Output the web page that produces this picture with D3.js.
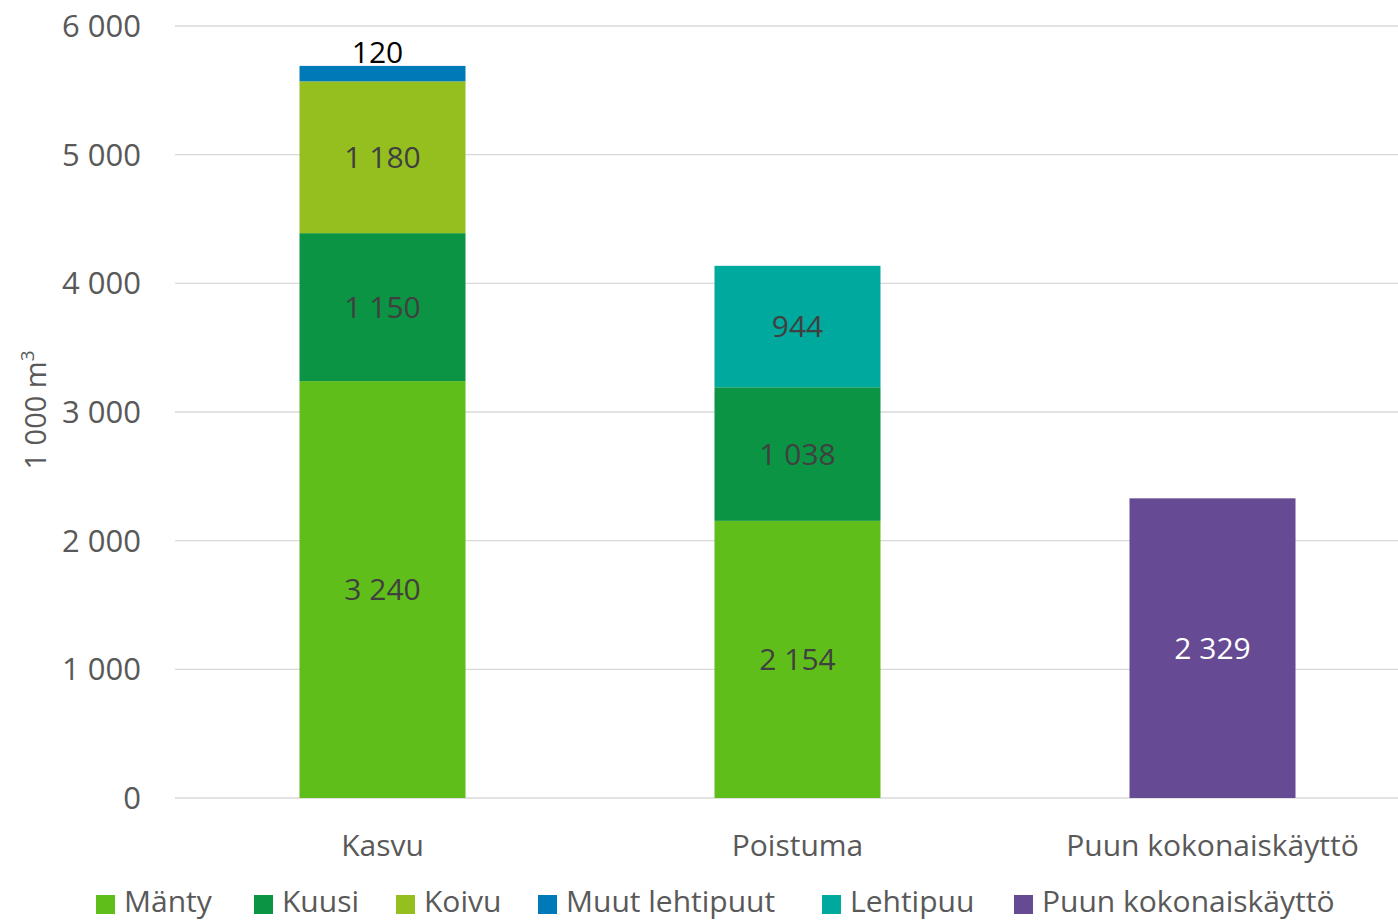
<!DOCTYPE html>
<html><head><meta charset="utf-8">
<script src="https://cdn.jsdelivr.net/npm/d3@7"></script>
<style>body{margin:0;background:#fff}svg{display:block}text{font-family:"Open Sans",sans-serif}</style>
</head><body>
<svg id="c" width="1398" height="920"></svg>
<script>
const categories = ["Kasvu","Poistuma","Puun kokonaiskäyttö"];
const seriesNames = ["Mänty","Kuusi","Koivu","Muut lehtipuut","Lehtipuu","Puun kokonaiskäyttö"];
const seriesColors = ["#5fbe1a","#0a9444","#94bf1f","#0079b9","#00a99d","#674a94"];
// values per series per category
const manty = [3240, 2154, 0];
const kuusi = [1150, 1038, 0];
const koivu = [1180, 0, 0];
const muutLehtipuut = [120, 0, 0];
const lehtipuu = [0, 944, 0];
const puunKaytto = [0, 0, 2329];
const yTicks = [0,1000,2000,3000,4000,5000,6000];

const seriesValues = [manty,kuusi,koivu,muutLehtipuut,lehtipuu,puunKaytto];
const table = categories.map((c,i)=>{const o={cat:c}; seriesNames.forEach((s,j)=>o[s]=seriesValues[j][i]); return o;});

const svg = d3.select("#c");
const y = d3.scaleLinear().domain([0,6000]).range([798,26]);
const x = d3.scaleBand().domain(categories).range([175,1420]).paddingInner(0.6).paddingOuter(0.3);
const fmt = v => d3.format(",")(v).replace(/,/g," ");

// gridlines
svg.append("g").selectAll("line").data(yTicks).join("line")
  .attr("x1",175).attr("x2",1398).attr("y1",d=>y(d)).attr("y2",d=>y(d))
  .attr("stroke","#d9d9d9").attr("stroke-width",1.3);

// y tick labels
svg.append("g").selectAll("text").data(yTicks).join("text")
  .attr("x",141).attr("y",d=>y(d)).attr("dy","0.36em").attr("text-anchor","end")
  .attr("font-size",31).attr("fill","#595959").text(fmt);

// y title
const yt = svg.append("text").attr("transform","translate(46,410) rotate(-90)")
  .attr("text-anchor","middle").attr("font-size",29).attr("fill","#595959");
yt.append("tspan").text("1 000 m");
yt.append("tspan").attr("font-size",19).attr("dy",-12).text("3");

const stack = d3.stack().keys(seriesNames)(table);
const g = svg.append("g");
stack.forEach((layer,j)=>{
  layer.forEach((d,i)=>{
    const v = d[1]-d[0];
    if(v<=0) return;
    g.append("rect").attr("x",x(categories[i])).attr("width",x.bandwidth())
      .attr("y",y(d[1])).attr("height",y(d[0])-y(d[1])).attr("fill",seriesColors[j]);
  });
});
// labels
stack.forEach((layer,j)=>{
  layer.forEach((d,i)=>{
    const v = d[1]-d[0];
    if(v<=0) return;
    const cx = x(categories[i])+x.bandwidth()/2;
    const t = g.append("text").attr("text-anchor","middle").attr("font-size",30).text(fmt(v));
    if(seriesNames[j]==="Muut lehtipuut"){
      t.attr("x",cx-5).attr("y",y(d[1])-3).attr("fill","#000");
    } else {
      t.attr("x",cx).attr("y",(y(d[0])+y(d[1]))/2).attr("dy","0.36em")
       .attr("fill", seriesNames[j]==="Puun kokonaiskäyttö" ? "#fff" : "#404040");
    }
  });
});

// category labels
svg.append("g").selectAll("text").data(categories).join("text")
  .attr("x",d=>x(d)+x.bandwidth()/2).attr("y",845).attr("dy","0.36em")
  .attr("text-anchor","middle").attr("font-size",30).attr("fill","#595959").text(d=>d);

// legend
const legX = [96,254,396,538,822,1014];
const lg = svg.append("g").selectAll("g").data(seriesNames).join("g")
  .attr("transform",(d,i)=>`translate(${legX[i]},0)`);
lg.append("rect").attr("x",0).attr("y",895).attr("width",19).attr("height",19).attr("fill",(d,i)=>seriesColors[i]);
lg.append("text").attr("x",28).attr("y",901).attr("dy","0.36em").attr("font-size",30).attr("fill","#595959").text(d=>d);
</script>
</body></html>
